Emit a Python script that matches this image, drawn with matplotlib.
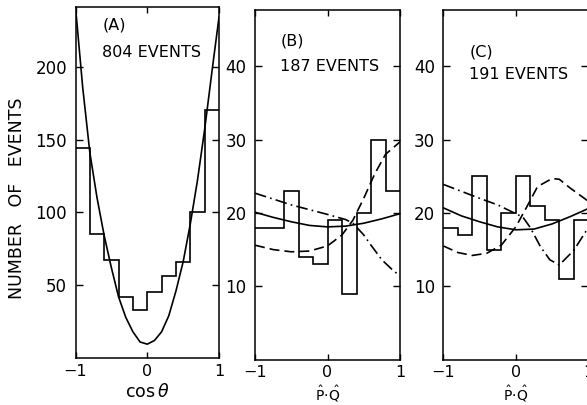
import matplotlib
matplotlib.use("Agg")
import matplotlib.pyplot as plt
import numpy as np

plt.rcParams.update({
    "font.family": "DejaVu Sans",
    "font.size": 11,
    "mathtext.fontset": "dejavusans",
})

# histogram bins (10 bins between -1 and 1)
bin_edges = np.linspace(-1, 1, 11)

# panel A: cos(theta) distribution
hist_a = [144, 85, 67, 42, 33, 45, 56, 66, 100, 170]
curve_a_x = [-1, -0.9, -0.8, -0.7, -0.6, -0.5, -0.4, -0.3, -0.2, -0.1, 0,
             0.1, 0.2, 0.3, 0.4, 0.5, 0.6, 0.7, 0.8, 0.9, 1]
curve_a_y = [241, 186, 141, 110, 84, 62, 42, 28, 18, 11, 9.5,
             12, 18, 29, 46, 66, 92, 122, 157, 196, 234]

# panel B: P.Q distribution
hist_b = [18, 18, 23, 14, 13, 19, 9, 20, 30, 23]
solid_b_x = [-1, -0.75, -0.5, -0.25, 0, 0.25, 0.5, 0.75, 1]
solid_b_y = [20.1, 19.4, 18.8, 18.3, 18.1, 18.2, 18.6, 19.2, 19.9]
dashdot_b_x = [-1, -0.5, 0, 0.25, 0.35, 0.5, 0.6, 0.75, 0.9, 1]
dashdot_b_y = [22.7, 21.1, 19.8, 19.1, 18.6, 17.0, 15.6, 13.6, 12.2, 11.4]
dashed_b_x = [-1, -0.75, -0.5, -0.25, 0, 0.2, 0.35, 0.5, 0.65, 0.8, 1]
dashed_b_y = [15.6, 15.0, 14.7, 14.8, 15.5, 17.0, 19.0, 22.0, 25.3, 28.0, 29.7]

# panel C
hist_c = [18, 17, 25, 15, 20, 25, 21, 19, 11, 19]
solid_c_x = [-1, -0.75, -0.5, -0.25, 0, 0.25, 0.5, 0.75, 1]
solid_c_y = [20.7, 19.6, 18.8, 18.1, 17.7, 17.8, 18.5, 19.5, 20.6]
dashdot_c_x = [-1, -0.5, -0.25, 0, 0.1, 0.2, 0.34, 0.47, 0.6, 0.8, 1]
dashdot_c_y = [23.9, 22.0, 21.1, 19.9, 19.4, 18.0, 15.4, 13.6, 12.9, 14.9, 18.0]
dashed_c_x = [-1, -0.8, -0.6, -0.4, -0.2, 0, 0.15, 0.3, 0.5, 0.6, 0.75, 1]
dashed_c_y = [15.5, 14.6, 14.2, 14.5, 15.6, 18.1, 20.8, 23.6, 24.7, 24.6, 23.4, 21.6]

labels = ["(A)", "(B)", "(C)"]
events = ["804 EVENTS", "187 EVENTS", "191 EVENTS"]

W, H = 587, 405
fig = plt.figure(figsize=(W / 100, H / 100), dpi=100)


def box(l, t, r, b):
    return [l / W, 1 - b / H, (r - l) / W, (b - t) / H]


ax_a = fig.add_axes(box(75.5, 7, 219, 358))
ax_b = fig.add_axes(box(255, 10, 400, 359.5))
ax_c = fig.add_axes(box(443.3, 10, 588.3, 359.5))

lw = 1.2
dash = (0, (6, 3))
dashdot = (0, (7, 2.5, 1, 2.5))

ax_a.stairs(hist_a, bin_edges, baseline=None, color="black", lw=lw)
ax_a.plot(curve_a_x, curve_a_y, color="black", lw=lw)

for ax, hist, sx, sy, ddx, ddy, dx, dy in [
        (ax_b, hist_b, solid_b_x, solid_b_y, dashdot_b_x, dashdot_b_y, dashed_b_x, dashed_b_y),
        (ax_c, hist_c, solid_c_x, solid_c_y, dashdot_c_x, dashdot_c_y, dashed_c_x, dashed_c_y)]:
    ax.stairs(hist, bin_edges, baseline=None, color="black", lw=lw)
    ax.plot(sx, sy, color="black", lw=lw)
    ax.plot(ddx, ddy, color="black", lw=lw, linestyle=dashdot)
    ax.plot(dx, dy, color="black", lw=lw, linestyle=dash)

ax_a.set_ylim(0, 241)
ax_a.set_yticks([50, 100, 150, 200])
for ax in (ax_b, ax_c):
    ax.set_ylim(0, 47.7)
    ax.set_yticks([10, 20, 30, 40])

for ax in (ax_a, ax_b, ax_c):
    ax.set_xlim(-1, 1)
    ax.set_xticks([-1, 0, 1])
    ax.set_xticklabels(["\u22121", "0", "1"])
    ax.tick_params(axis="y", direction="in", length=5, width=1,
                   left=True, right=True, pad=6, labelsize=12)
    ax.tick_params(axis="x", direction="in", length=4, width=1,
                   bottom=True, top=True, pad=4, labelsize=11.5)
    for s in ax.spines.values():
        s.set_linewidth(1.1)

for ax, lab, ev, ty1, ty2 in [(ax_a, labels[0], events[0], 25, 52),
                              (ax_b, labels[1], events[1], 38, 64),
                              (ax_c, labels[2], events[2], 49, 72)]:
    x0 = 0.19 if ax is ax_a else 0.18
    ax.text(x0, 1 - (ty1 - 7) / 350, lab, transform=ax.transAxes,
            ha="left", va="center", fontsize=11.5)
    ax.text(x0 - 0.005, 1 - (ty2 - 7) / 350, ev, transform=ax.transAxes,
            ha="left", va="center", fontsize=11.5)

ax_a.set_xlabel(r"cos$\,\theta$", fontsize=12.5, labelpad=3)
# P.Q labels sit at the very bottom of the figure, under the "0" tick label
for ax in (ax_b, ax_c):
    pos = ax.get_position()
    fig.text(pos.x0 + pos.width / 2, 1 / H, r"$\mathrm{\hat{P}\!\cdot\!\hat{Q}}$",
             ha="center", va="bottom", fontsize=10)

fig.text(17 / W, 1 - 198 / H, "NUMBER   OF   EVENTS", rotation=90,
         ha="center", va="center", fontsize=12.5)

fig.savefig("out.png", dpi=100)
